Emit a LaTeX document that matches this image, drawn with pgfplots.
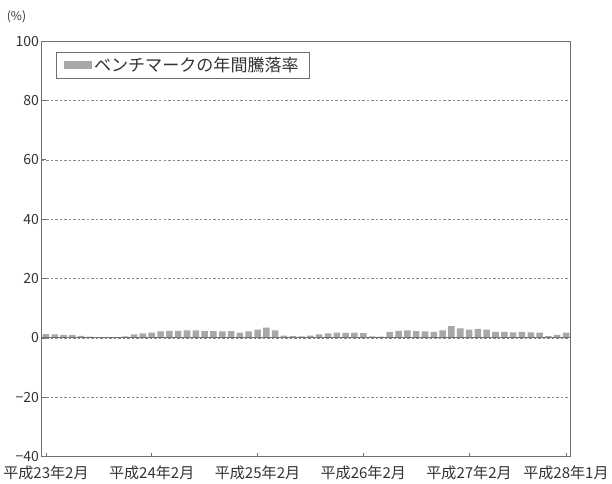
\documentclass[border=0pt]{standalone}
\usepackage{fontspec}
\setmainfont{Noto Sans CJK JP}
\usepackage{pgfplots}
\pgfplotsset{compat=1.18}
\definecolor{barc}{HTML}{A8A8A8}
\definecolor{axc}{HTML}{707070}
\definecolor{gridc}{HTML}{8A8A8A}
\definecolor{txt}{HTML}{333333}
\begin{document}
\begin{tikzpicture}
\begin{axis}[
  scale only axis,
  width=527pt, height=414pt,
  xmin=-0.5, xmax=59.5,
  ymin=-40, ymax=100,
  ytick={-40,-20,0,20,40,60,80,100},
  yticklabels={−40,−20,0,20,40,60,80,100},
  xtick={0,12,24,36,48,59},
  xticklabels={平成23年2月,平成24年2月,平成25年2月,平成26年2月,平成27年2月,平成28年1月},
  tick align=inside,
  major tick length=4pt,
  xtick pos=bottom, ytick pos=left,
  axis line style={axc, line width=0.9pt},
  every tick/.style={axc, line width=0.7pt},
  ymajorgrids,
  grid style={gridc, line width=0.5pt, dash pattern=on 2.5pt off 2pt},
  ticklabel style={font=\fontsize{14}{16}\selectfont, text=txt},
  xticklabel style={yshift=-6pt, font=\fontsize{15}{17}\selectfont},
  yticklabel style={xshift=1pt},
  legend style={at={(0,1)}, xshift=14pt, yshift=-11pt, anchor=north west,
    draw=axc, line width=0.6pt, font=\fontsize{17}{19}\selectfont, text=txt,
    inner xsep=8pt, inner ysep=3pt},
  legend cell align=left,
  clip=false,
]
\addplot[ybar, bar width=0.74, fill=barc, draw=none,
  legend image code/.code={\fill[barc] (0pt,-4pt) rectangle (28pt,4pt);}]
coordinates {
(0,1.3) (1,1.2) (2,1.0) (3,1.0) (4,0.7) (5,0.4) (6,0.3) (7,0.3) (8,0.3) (9,0.5)
(10,1.2) (11,1.5) (12,1.8) (13,2.2) (14,2.4) (15,2.4) (16,2.5) (17,2.5) (18,2.4) (19,2.3)
(20,2.2) (21,2.3) (22,1.8) (23,2.2) (24,2.8) (25,3.5) (26,2.5) (27,0.8) (28,0.6) (29,0.5)
(30,0.8) (31,1.2) (32,1.5) (33,1.8) (34,1.7) (35,1.8) (36,1.6) (37,0.5) (38,0.4) (39,2.0)
(40,2.4) (41,2.5) (42,2.3) (43,2.2) (44,2.0) (45,2.5) (46,4.0) (47,3.2) (48,2.8) (49,3.0)
(50,2.8) (51,2.0) (52,2.0) (53,1.9) (54,2.0) (55,1.9) (56,1.8) (57,0.6) (58,1.0) (59,1.8)
};
\addlegendentry{ベンチマークの年間騰落率}
\addplot[axc, line width=0.9pt, no marks, forget plot] coordinates {(-0.5,0) (59.5,0)};
\node[font=\fontsize{12}{14}\selectfont, text=txt] at ([xshift=-25pt,yshift=24pt]rel axis cs:0,1) {(\%)};
\path ([yshift=41pt]rel axis cs:0,1) ([yshift=-27pt]rel axis cs:0,0);
\end{axis}
\end{tikzpicture}
\end{document}
